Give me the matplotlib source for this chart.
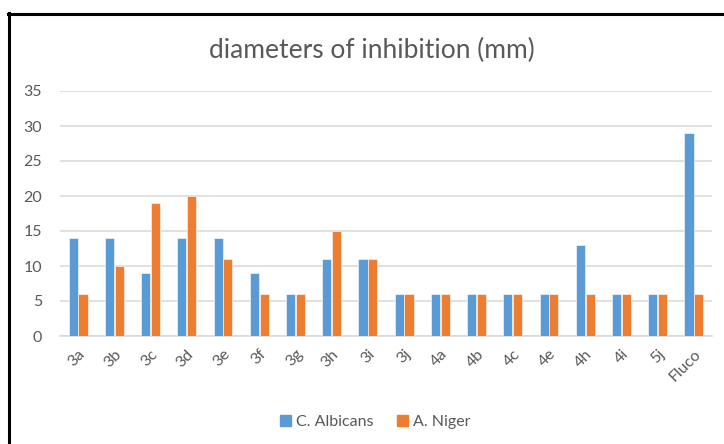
import matplotlib
matplotlib.use("Agg")
import matplotlib.pyplot as plt
from matplotlib.lines import Line2D
from matplotlib.patches import Patch
import numpy as np

categories = ["3a", "3b", "3c", "3d", "3e", "3f", "3g", "3h", "3i", "3j",
              "4a", "4b", "4c", "4e", "4h", "4i", "5j", "Fluco"]
c_albicans = [14, 14, 9, 14, 14, 9, 6, 11, 11, 6, 6, 6, 6, 6, 13, 6, 6, 29]
a_niger = [6, 10, 19, 20, 11, 6, 6, 15, 11, 6, 6, 6, 6, 6, 6, 6, 6, 6]
yticks = [0, 5, 10, 15, 20, 25, 30, 35]

BLUE = "#5B9BD5"
ORANGE = "#ED7D31"
TXT = "#595959"
GRID = "#D9D9D9"

plt.rcParams['font.family'] = ['Lato', 'DejaVu Sans']

fig = plt.figure(figsize=(7.24, 4.44), dpi=100)
ax = fig.add_axes([60/724, 108/444, 652/724, 245/444])

x = np.arange(len(categories))
w = 0.25
ax.bar(x - w/2 - 0.01, c_albicans, width=w, color=BLUE, edgecolor="white", linewidth=0.4, zorder=3)
ax.bar(x + w/2 + 0.01, a_niger, width=w, color=ORANGE, edgecolor="white", linewidth=0.4, zorder=3)

ax.set_xlim(-0.5, len(categories) - 0.5)
ax.set_ylim(0, 35)
ax.set_yticks(yticks)
ax.yaxis.grid(True, color=GRID, linewidth=1.1, zorder=0)
for s in ["top", "right", "left"]:
    ax.spines[s].set_visible(False)
ax.spines["bottom"].set_color(GRID)
ax.spines["bottom"].set_linewidth(1.1)
ax.tick_params(axis="both", length=0, colors=TXT, labelsize=11.5)
ax.tick_params(axis="y", pad=13)
ax.set_xticks(x)
ax.set_xticklabels(categories, rotation=45, ha="right", rotation_mode="anchor")
ax.tick_params(axis="x", pad=8)

fig.text(0.514, 0.887, "diameters of inhibition (mm)", ha="center", va="center",
         fontsize=19, color=TXT)

handles = [Patch(color=BLUE, label="C. Albicans"), Patch(color=ORANGE, label="A. Niger")]
fig.legend(handles=handles, loc="center", bbox_to_anchor=(0.518, 0.05), ncol=2,
           frameon=False, fontsize=11.5, labelcolor=TXT, handlelength=0.7, handleheight=0.7,
           handletextpad=0.3, columnspacing=1.5)

# border lines (top and left only, as in reference)
fig.add_artist(Line2D([8/724, 1.0], [1 - 14/444, 1 - 14/444], color="black", linewidth=2.2,
                      transform=fig.transFigure))
fig.add_artist(Line2D([9/724, 9/724], [0, 1 - 13/444], color="black", linewidth=2.2,
                      transform=fig.transFigure))

fig.savefig("out.png", dpi=100, facecolor="white")
